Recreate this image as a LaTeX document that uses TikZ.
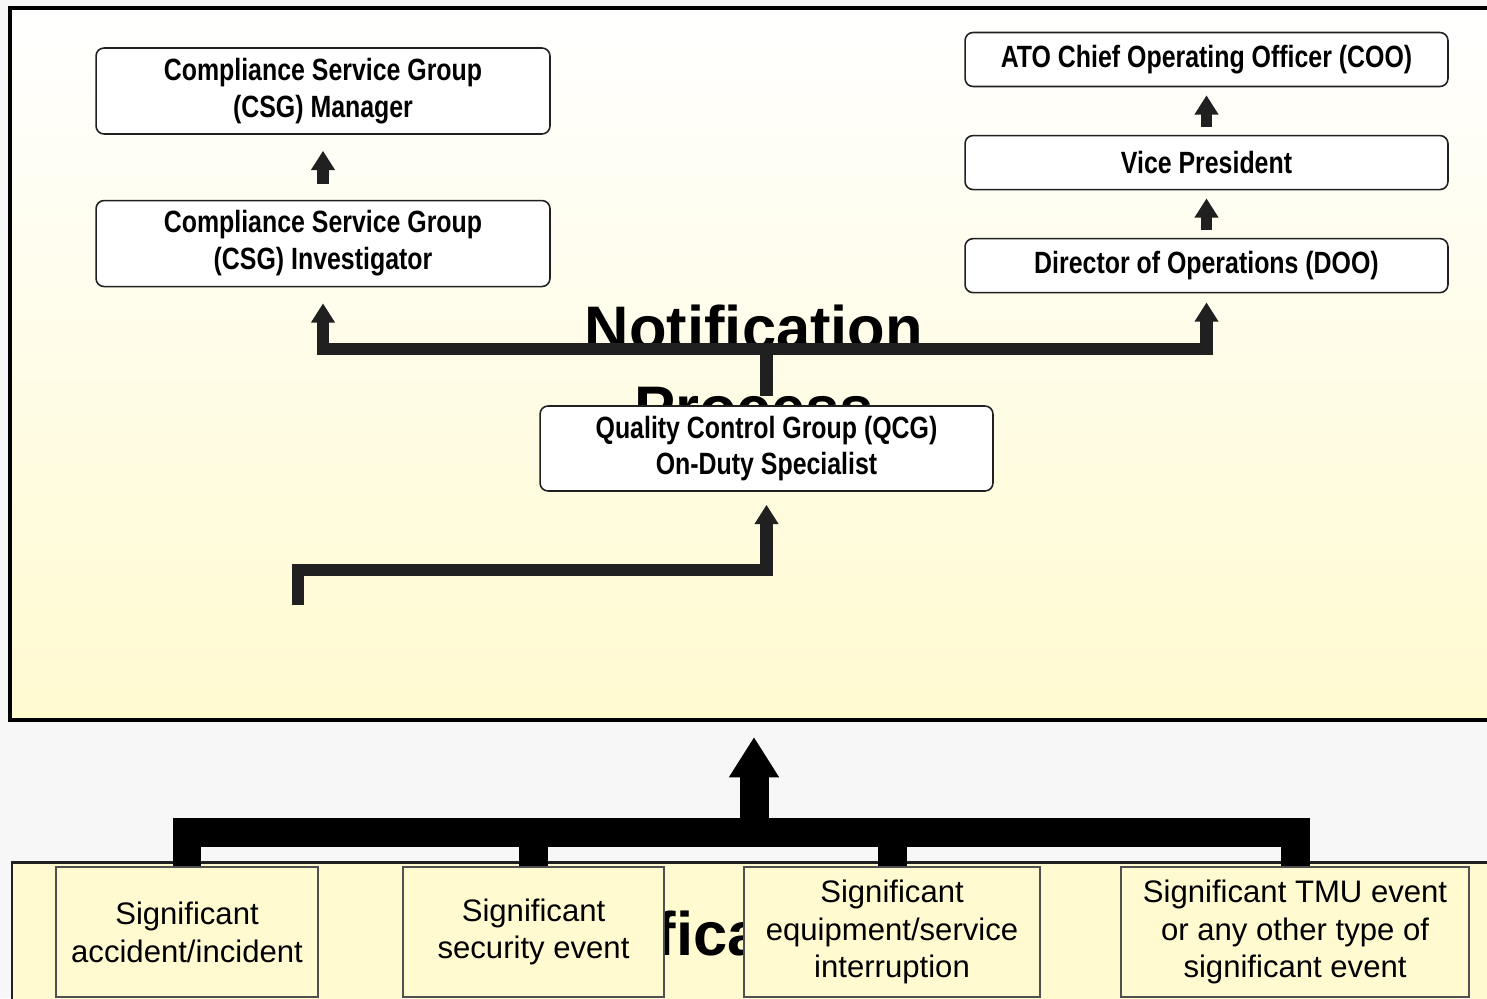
\documentclass[tikz,border=0pt]{standalone}
\usepackage{fontspec}
\setmainfont{Liberation Sans}
\newfontfamily\condfont[FakeStretch=0.81]{Liberation Sans}
\usepackage{tikz}
\usetikzlibrary{positioning,arrows.meta,calc}
\definecolor{ntBack}{RGB}{247,247,247}
\definecolor{ntLemon}{RGB}{255,250,208}
\definecolor{ntInk}{RGB}{32,32,32}
\definecolor{ntEdge}{RGB}{80,80,80}
\tikzset{
    role/.style={rectangle, rounded corners=1.6mm, draw=ntInk, line width=0.9pt,
                 fill=white, align=center, inner sep=0pt,
                 font=\condfont\bfseries\fontsize{17.5}{21}\selectfont},
    event/.style={rectangle, draw=ntEdge, line width=0.9pt, fill=ntLemon,
                  align=center, inner sep=0pt, minimum height=2.6cm,
                  font=\fontsize{17.7}{21.5}\selectfont},
    lift/.style={-{Triangle[width=13pt,length=11pt]}, line width=6.5pt, draw=ntInk},
    branch/.style={-{Triangle[width=13pt,length=11pt]}, line width=7pt,
                   draw=ntInk, line join=miter},
    trunk/.style={line width=16.5pt, draw=black, line join=miter},
    banner/.style={font=\bfseries\fontsize{35}{45}\selectfont, align=center, inner sep=0pt}
}
\begin{document}
\begin{tikzpicture}[x=0.02cm, y=-0.02cm]
  \useasboundingbox (0,0) rectangle (1487,998);
  \clip (0,0) rectangle (1487,998);
  \fill[ntBack] (0,0) rectangle (1487,998);

  % Panels
  \draw[line width=2.3pt, top color=white, bottom color=ntLemon] (10,8) rectangle (1520,720);
  \draw[line width=1.7pt, draw=ntInk, fill=ntLemon] (12,862) rectangle (1520,1020);
  \node[banner, anchor=base] (title) at (754,429) {Notification\\Process};
  \node[banner, anchor=base west] (lowtitle) at (655.5,955) {fica};

  % Roles
  \node[role, minimum width=9.08cm, minimum height=1.72cm] (mgr) at (323,91)
       {Compliance Service Group\\(CSG) Manager};
  \node[role, minimum width=9.08cm, minimum height=1.72cm, below=1.3cm of mgr] (inv)
       {Compliance Service Group\\(CSG) Investigator};
  \node[role, minimum width=9.66cm, minimum height=1.08cm] (coo) at (1206.5,59.5)
       {ATO Chief Operating Officer (COO)};
  \node[role, minimum width=9.66cm, minimum height=1.08cm, below=0.95cm of coo] (vp)
       {Vice President};
  \node[role, minimum width=9.66cm, minimum height=1.08cm, below=0.95cm of vp] (doo)
       {Director of Operations (DOO)};
  \node[role, minimum width=9.06cm, minimum height=1.7cm] (qcg) at (766.5,448.5)
       {Quality Control Group (QCG)\\On-Duty Specialist};

  % Events
  \node[event, minimum width=5.24cm] (acc) at (187,932) {Significant\\accident/incident};
  \node[event, minimum width=5.22cm, right=1.67cm of acc] (sec) {Significant\\security event};
  \node[event, minimum width=5.92cm, right=1.57cm of sec] (equ)
       {Significant\\equipment/service\\interruption};
  \node[event, minimum width=6.96cm, right=1.59cm of equ] (tmu)
       {Significant TMU event\\or any other type of\\significant event};

  % Chains up
  \draw[lift, shorten <=0.32cm, shorten >=0.32cm] (inv.north) -- (mgr.south);
  \draw[lift, shorten <=0.16cm, shorten >=0.16cm] (doo.north) -- (vp.south);
  \draw[lift, shorten <=0.16cm, shorten >=0.16cm] (vp.north) -- (coo.south);

  % QCG fan-out
  \coordinate (fork) at (766.5,349);
  \draw[branch, shorten <=0.18cm, shorten >=0.32cm] (qcg.north) -- (fork) -| (inv.south);
  \draw[branch, shorten >=0.18cm] (fork) -| (doo.south);

  % Feed into QCG
  \coordinate (src) at (298,605);
  \coordinate (bend) at (298,570);
  \draw[branch, shorten >=0.26cm] (src) -- (bend) -| (qcg.south);

  % Events trunk
  \coordinate (hub) at (754,832);
  \coordinate (entry) at (754,737);
  \draw[trunk] (acc.north) |- (hub) -| (tmu.north);
  \draw[trunk] (sec.north) -- (sec.north |- hub);
  \draw[trunk] (equ.north) -- (equ.north |- hub);
  \draw[trunk, -{Triangle[width=27pt,length=23pt]}] (hub) -- (entry);
\end{tikzpicture}
\end{document}
